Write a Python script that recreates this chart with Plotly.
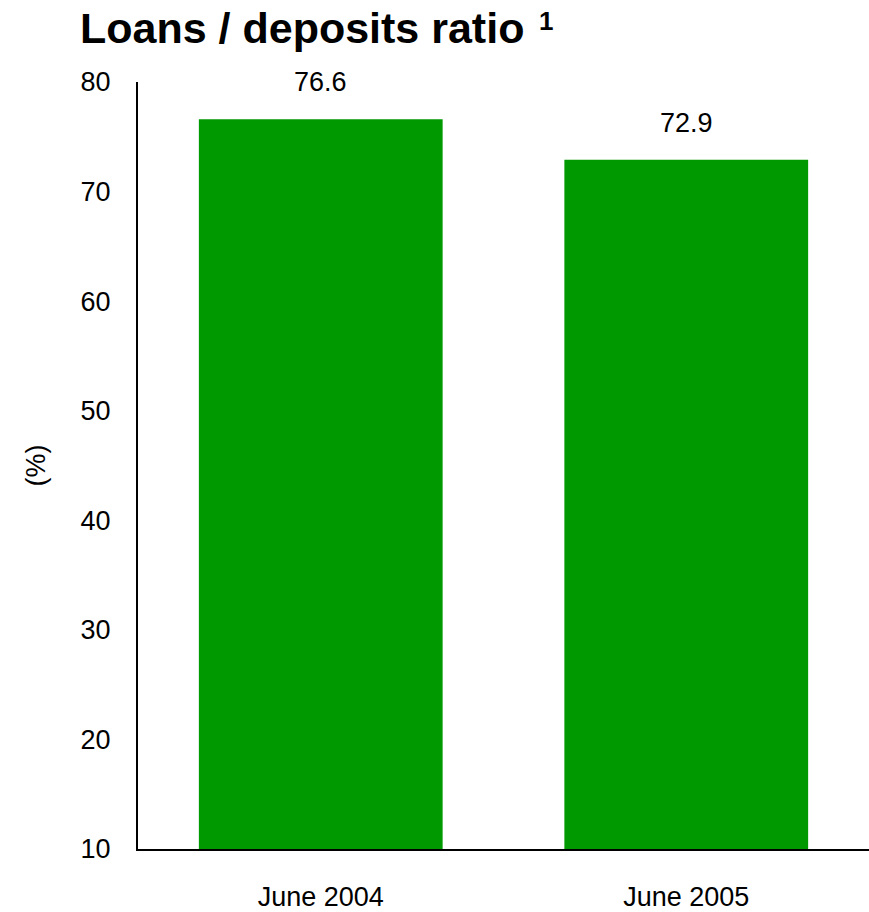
import plotly.graph_objects as go

# Loans-to-deposits ratio, in percent
periods = ["June 2004", "June 2005"]
ratios = [76.6, 72.9]
y_ticks = [10, 20, 30, 40, 50, 60, 70, 80]

BAR_GREEN = "#009900"
FONT = "Liberation Sans, Arial, sans-serif"
TEXT_SIZE = 27

fig = go.Figure()
fig.add_trace(go.Bar(
    x=periods,
    y=ratios,
    base=0,
    width=0.667,
    marker=dict(color=BAR_GREEN, line=dict(width=0)),
    hoverinfo="skip",
))

# value labels above each bar
for p, v in zip(periods, ratios):
    fig.add_annotation(
        x=p, y=v, text=f"{v:.1f}", showarrow=False,
        yanchor="middle", yshift=37,
        font=dict(family=FONT, size=TEXT_SIZE, color="#000000"),
    )

# footnote marker next to the title
fig.add_annotation(
    text="<b>1</b>", showarrow=False,
    xref="paper", yref="paper", x=0.546, y=1.08,
    xanchor="left", yanchor="middle",
    font=dict(family=FONT, size=26, color="#000000"),
)

fig.update_layout(
    width=869, height=912,
    margin=dict(l=138, r=0, t=82, b=56),
    paper_bgcolor="white", plot_bgcolor="white",
    showlegend=False,
    font=dict(family=FONT, size=TEXT_SIZE, color="#000000"),
    title=dict(
        text="<b>Loans / deposits ratio</b>",
        x=80 / 869, xanchor="left", xref="container",
        y=1 - 28 / 912, yanchor="middle", yref="container",
        font=dict(family=FONT, size=43, color="#000000"),
    ),
    xaxis=dict(
        range=[-0.5, 1.5],
        showline=True, linecolor="#000000", linewidth=2,
        showgrid=False, zeroline=False,
        ticks="", ticklabelstandoff=23,
        tickfont=dict(family=FONT, size=TEXT_SIZE),
    ),
    yaxis=dict(
        range=[10, 80],
        tickvals=y_ticks,
        showline=True, linecolor="#000000", linewidth=2,
        showgrid=False, zeroline=False,
        ticks="", ticklabelstandoff=20,
        tickfont=dict(family=FONT, size=TEXT_SIZE),
        title=dict(text="(%)", standoff=27, font=dict(family=FONT, size=TEXT_SIZE)),
    ),
)

fig.write_html("out.html")
